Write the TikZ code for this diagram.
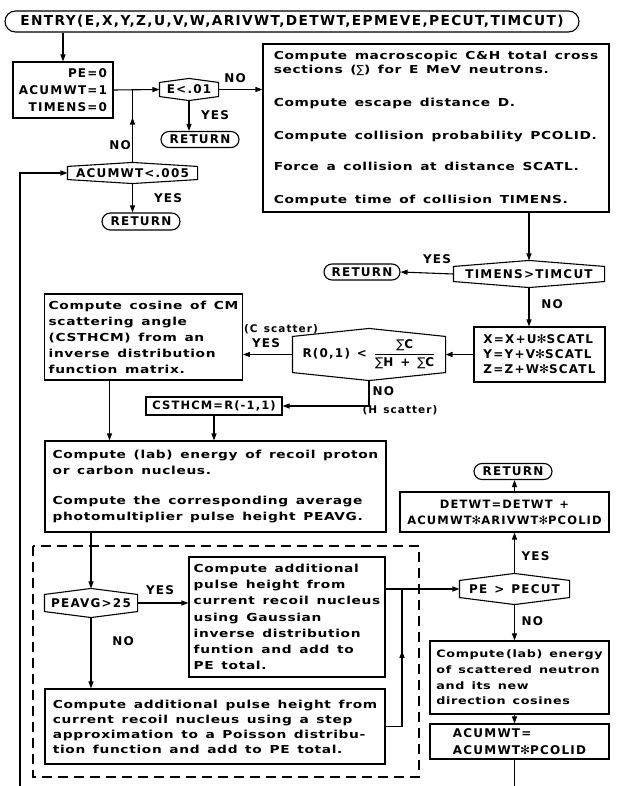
\documentclass[tikz,border=0pt]{standalone}
\usepackage{fontspec}
\setmainfont{DejaVu Sans Bold}[FakeStretch=1.25, LetterSpace=6, WordSpace=1.4]
\newfontfamily\capf{DejaVu Sans Bold}[LetterSpace=10, WordSpace=1.3]
\newfontfamily\symf{DejaVu Sans}[LetterSpace=10]
\usetikzlibrary{arrows.meta,shapes.misc,calc}
\newcommand\hexa[2]{\draw ([yshift=-#2pt]#1.north west) -- (#1.north) -- ([yshift=-#2pt]#1.north east) -- ([yshift=#2pt]#1.south east) -- (#1.south) -- ([yshift=#2pt]#1.south west) -- cycle;}
\newcommand\st{{\symf ✻}}
\newcommand\sg{{\symf ∑}}
\tikzset{
  every node/.style={font=\capf\fontsize{12}{17}\selectfont, inner sep=0pt},
  pbox/.style={draw, rectangle, inner xsep=4pt},
  txt/.style={font=\rmfamily\fontsize{11}{#1}\selectfont, align=left},
  term/.style={draw, rounded rectangle},
  dec/.style={rectangle},
  lbl/.style={},
  slbl/.style={font=\capf\fontsize{10.5}{12}\selectfont},
  arr/.style={-{Triangle[length=7pt,width=5pt]}},
}
\begin{document}
\begin{tikzpicture}[x=1pt,y=-1pt,line width=1.1pt]
\useasboundingbox (0,0) rectangle (617,786);
% terminals
\node[term, minimum width=574, minimum height=21, font=\capf\fontsize{13.7}{16}\selectfont] (entry) at (292,21.5) {ENTRY(E,X,Y,Z,U,V,W,ARIVWT,DETWT,EPMEVE,PECUT,TIMCUT)};
\node[term, minimum width=78, minimum height=16] (ret1) at (200,139.5) {RETURN};
\node[term, minimum width=78, minimum height=17] (ret2) at (141,221.5) {RETURN};
\node[term, minimum width=76, minimum height=16] (ret3) at (362,272) {RETURN};
\node[term, minimum width=78, minimum height=16] (ret4) at (513,471.5) {RETURN};
% boxes
\node[pbox, align=right, minimum width=100, minimum height=56] (init) at (63,90) {PE=0\\ACUMWT=1\\TIMENS=0};
\node[pbox, txt=14, minimum width=346, minimum height=168] (big) at (436,128)
 {Compute macroscopic C\&H total cross\\ sections (\sg) for E MeV neutrons.\\[19pt]
  Compute escape distance D.\\[19pt]
  Compute collision probability PCOLID.\\[17pt]
  Force a collision at distance SCATL.\\[19pt]
  Compute time of collision TIMENS.};
\node[pbox, align=left, minimum width=131, minimum height=55, font=\capf\fontsize{12}{15}\selectfont] (xyz) at (539.5,354.5)
 {X=X+U\st SCATL\\Y=Y+V\st SCATL\\Z=Z+W\st SCATL};
\node[pbox, txt=16, minimum width=197, minimum height=86] (cos) at (143.5,337)
 {Compute cosine of CM\\ scattering angle\\ (CSTHCM) from an\\ inverse distribution\\ function matrix.};
\node[pbox, minimum width=136, minimum height=18, font=\capf\fontsize{11.5}{14}\selectfont] (csthcm) at (214,406) {CSTHCM=R(-1,1)};
\node[pbox, txt=16, minimum width=341, minimum height=91] (recoil) at (215.5,486.5)
 {Compute (lab) energy of recoil proton\\ or carbon nucleus.\\[14pt]
  Compute the corresponding average\\ photomultiplier pulse height PEAVG.};
\node[pbox, txt=16.2, minimum width=196, minimum height=120] (gauss) at (287,617)
 {Compute additional\\ pulse height from\\ current recoil nucleus\\ using Gaussian\\ inverse distribution\\ funtion and add to\\ PE total.};
\node[pbox, txt=15, minimum width=340, minimum height=75] (poisson) at (215,726.5)
 {Compute additional pulse height from\\ current recoil nucleus using a step\\ approximation to a Poisson distribu-\\ tion function and add to PE total.};
\node[pbox, align=center, minimum width=209, minimum height=40, font=\capf\fontsize{11.5}{16}\selectfont] (detwt) at (504.5,512)
 {DETWT=DETWT +\\ ACUMWT\st ARIVWT\st PCOLID};
\node[pbox, align=left, font=\rmfamily\fontsize{10.2}{15.7}\selectfont, inner xsep=3pt, minimum width=179, minimum height=73] (neutron) at (519.5,677.5)
 {Compute\thinspace(lab) energy\\ of scattered neutron\\ and its new\\ direction cosines};
\node[pbox, align=left, minimum width=179, minimum height=35] (acum) at (519.5,741.5)
 {ACUMWT=\\ ACUMWT\st PCOLID};
% decisions
\node[dec, minimum width=58, minimum height=21] (d1) at (189,89.5) {E<.01};
\hexa{d1}{4}
\node[dec, minimum width=129, minimum height=20] (d2) at (132.5,173) {ACUMWT<.005};
\hexa{d2}{4}
\node[dec, minimum width=150, minimum height=26] (d3) at (529,274) {TIMENS>TIMCUT};
\hexa{d3}{6}
\node[dec, minimum width=152, minimum height=51] (d4) at (369,354.5) {R(0,1) < $\displaystyle{\mbox{\sg C}\above1pt\mbox{\sg H + \sg C}}$};
\hexa{d4}{8}
\node[dec, minimum width=92, minimum height=28] (d5) at (91,603) {PEAVG>25};
\hexa{d5}{6}
\node[dec, minimum width=109, minimum height=30] (d6) at (514.5,589) {PE > PECUT};
\hexa{d6}{7}
% dashed group
\draw[dash pattern=on 10pt off 6pt] (33,546) rectangle (419,777);
% free ends
\coordinate (bot1) at (20,786);
\coordinate (bot2) at (514.5,786);
\coordinate (j1) at (402,589);
% connectors
\draw[arr] (init.north |- entry.south) -- (init.north);
\draw[arr] (init.east) -- (d1.west);
\draw (d2.north) -- (d2.north |- init.east);
\draw[arr] (d2.north) -- ($(d2.north)!0.62!(d2.north |- init.east)$);
\draw[arr] (d1.east) -- (d1.east -| big.west);
\draw[arr] (d1.south) -- (d1.south |- ret1.north);
\draw[arr] (d2.south) -- (d2.south |- ret2.north);
\draw[arr] (bot1) |- (d2.west);
\draw[arr] (d3.north |- big.south) -- (d3.north);
\draw[arr] (d3.west) -- (ret3.east);
\draw[arr] (d3.south) -- (d3.south |- xyz.north);
\draw[arr] (xyz.west) -- (d4.east);
\draw[arr] (d4.west) -- (d4.west -| cos.east);
\draw[arr] (d4.south) |- (csthcm.east);
\draw[arr] ([xshift=-34pt]cos.south) -- ([xshift=-34pt]cos.south |- recoil.north);
\draw[arr] (csthcm.south) -- (csthcm.south |- recoil.north);
\draw[arr] (d5.north |- recoil.south) -- (d5.north);
\draw[arr] (d5.east) -- (d5.east -| gauss.west);
\draw[arr] (d5.south) -- (d5.south |- poisson.north);
\draw[arr] (gauss.east |- d6.west) -- (d6.west);
\draw (poisson.east) -| (j1);
\draw[arr] (j1 |- poisson.east) -- ($(j1 |- poisson.east)!0.55!(j1)$);
\draw[arr] (d6.north) -- (d6.north |- detwt.south);
\draw[arr] (d6.north |- detwt.north) -- (d6.north |- ret4.south);
\draw[arr] (d6.south) -- (d6.south |- neutron.north);
\draw[arr] (d6.south |- neutron.south) -- (d6.south |- acum.north);
\draw (d6.south |- acum.south) -- (bot2);
% labels
\node[lbl] (l1) at (235,78) {NO};
\node[lbl] (l2) at (215,115) {YES};
\node[lbl] (l3) at (120,145) {NO};
\node[lbl] (l4) at (168,198) {YES};
\node[lbl] (l5) at (437,259) {YES};
\node[lbl] (l6) at (552,304) {NO};
\node[slbl] (l7) at (281,329) {(C scatter)};
\node[lbl] (l8) at (266,343) {YES};
\node[lbl, anchor=west] (l9) at (372,391) {NO};
\node[slbl, anchor=west] (l10) at (362,410) {(H scatter)};
\node[lbl] (l11) at (160,590) {YES};
\node[lbl] (l12) at (123,641) {NO};
\node[lbl, anchor=west] (l13) at (521,556) {YES};
\node[lbl, anchor=west] (l14) at (521,621) {NO};
\end{tikzpicture}
\end{document}
